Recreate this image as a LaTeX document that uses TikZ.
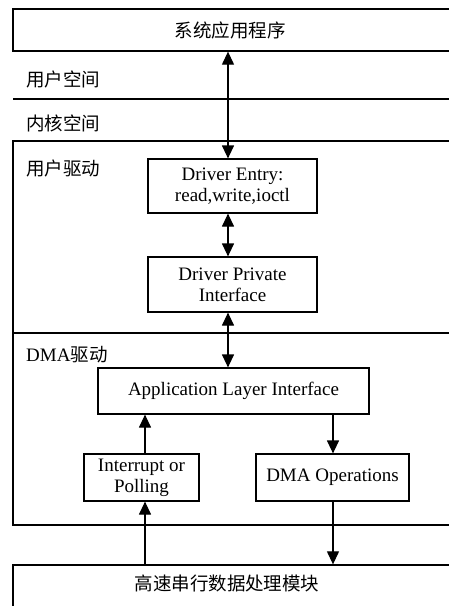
\documentclass[tikz,border=0pt]{standalone}
\usepackage{fontspec}
\setmainfont{Liberation Serif}
\newfontfamily\cjk{Noto Sans CJK SC}
\usetikzlibrary{arrows.meta}
\tikzset{
  region/.style={draw, line width=1.3pt, rectangle, inner sep=0pt},
  box/.style={draw, line width=1.2pt, rectangle, inner sep=0pt, align=center,
    font=\fontsize{19}{21}\selectfont},
  lbl/.style={anchor=west, inner sep=0pt, font=\fontsize{18.5}{21}\selectfont\cjk},
  arr/.style={line width=1.2pt, -{Triangle[length=13pt,width=12pt]}},
  dbl/.style={line width=1.2pt, {Triangle[length=13pt,width=12pt]}-{Triangle[length=13pt,width=12pt]}},
}
\begin{document}
\begin{tikzpicture}[x=1pt,y=-1pt]
\useasboundingbox (0,0) rectangle (449,606);
\clip (0,0) rectangle (449,606);
% regions
\node[region, minimum width=467pt, minimum height=42pt] (app) at (246.5,30) {};
\node[inner sep=0pt, font=\fontsize{18.5}{21}\selectfont\cjk] (apptxt) at (230,30) {系统应用程序};
\draw[line width=1.3pt] (13,99) coordinate (sepL) -- (470,99) coordinate (sepR);
\node[lbl] (us) at (26,79) {用户空间};
\node[lbl] (ks) at (26,123) {内核空间};
\node[region, minimum width=467pt, minimum height=192pt] (ud) at (246.5,237) {};
\node[lbl] (udl) at (26,168) {用户驱动};
\node[region, minimum width=467pt, minimum height=192pt] (dd) at (246.5,429) {};
\node[lbl] (ddl) at (26,355) {{\rmfamily\fontsize{19}{21}\selectfont DMA}驱动};
\node[region, minimum width=467pt, minimum height=60pt] (hw) at (246.5,595) {};
\node[inner sep=0pt, font=\fontsize{18.5}{21}\selectfont\cjk] (hwtxt) at (227,583) {高速串行数据处理模块};
% boxes
\node[box, minimum width=169pt, minimum height=54pt] (entry) at (232.5,186) {Driver Entry:\\read,write,ioctl};
\node[box, minimum width=169pt, minimum height=55pt] (priv) at (232.5,284.5) {Driver Private\\Interface};
\node[box, minimum width=271pt, minimum height=46pt] (ali) at (233.5,391) {Application Layer Interface};
\node[box, minimum width=115pt, minimum height=47pt] (irq) at (141.5,477.5) {Interrupt or\\Polling};
\node[box, minimum width=153pt, minimum height=47pt] (dma) at (332.5,477.5) {DMA Operations};
\coordinate (ax) at (228,0);
\coordinate (lx) at (145,0);
\coordinate (rx) at (333,0);
% connectors
\draw[dbl] (app.south -| ax) -- (entry.north -| ax);
\draw[dbl] (entry.south -| ax) -- (priv.north -| ax);
\draw[dbl] (priv.south -| ax) -- (ali.north -| ax);
\draw[arr] (irq.north -| lx) -- (ali.south -| lx);
\draw[arr] (hw.north -| lx) -- (irq.south -| lx);
\draw[arr] (ali.south -| rx) -- (dma.north -| rx);
\draw[arr] (dma.south -| rx) -- (hw.north -| rx);
\end{tikzpicture}
\end{document}
